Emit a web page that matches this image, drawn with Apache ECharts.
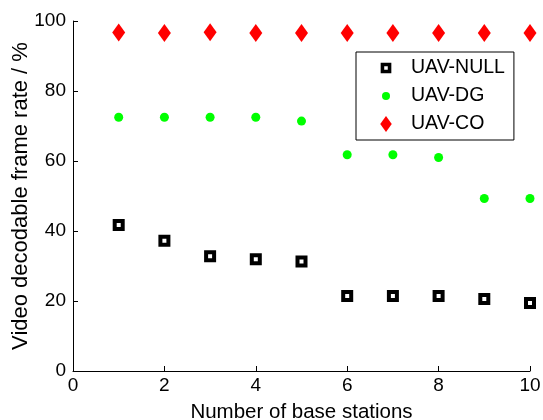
<!DOCTYPE html>
<html>
<head>
<meta charset="utf-8">
<script src="https://cdn.jsdelivr.net/npm/echarts@6/dist/echarts.min.js"></script>
<style>
html,body{margin:0;padding:0;background:#fff;}
#chart{width:543px;height:420px;}
</style>
</head>
<body>
<div id="chart"></div>
<script>
var stations = [1, 2, 3, 4, 5, 6, 7, 8, 9, 10];
var uavNull = [41.7, 37.2, 32.8, 31.9, 31.3, 21.4, 21.4, 21.4, 20.6, 19.4];
var uavDG = [72.5, 72.5, 72.5, 72.5, 71.4, 61.8, 61.8, 61.0, 49.3, 49.3];
var uavCO = [96.7, 96.6, 96.8, 96.6, 96.6, 96.6, 96.6, 96.6, 96.6, 96.6];
var seriesNames = ['UAV-NULL', 'UAV-DG', 'UAV-CO'];
var xTicks = [0, 2, 4, 6, 8, 10];
var yTicks = [0, 20, 40, 60, 80, 100];

function pairs(v) { return stations.map(function (x, i) { return [x, v[i]]; }); }

var FONT = 'Liberation Sans, Arial, sans-serif';
var BOX = 'M-9,-9 L-9,-9 M9,9 L9,9 ';
var chart = echarts.init(document.getElementById('chart'));
chart.setOption({
  animation: false,
  backgroundColor: '#fff',
  grid: { left: 73, right: 13, top: 21, bottom: 49, containLabel: false, outerBoundsMode: 'none' },
  xAxis: {
    type: 'value', min: xTicks[0], max: xTicks[xTicks.length - 1], interval: 2,
    name: 'Number of base stations', nameLocation: 'middle', nameGap: 31, nameMoveOverlap: false,
    nameTextStyle: { fontFamily: FONT, fontSize: 20.5, color: '#000' },
    axisLine: { show: true, lineStyle: { color: '#000', width: 1 } },
    axisTick: { show: true, inside: true, length: 5, lineStyle: { color: '#000' } },
    axisLabel: { fontFamily: FONT, fontSize: 19, color: '#000', margin: 5 },
    splitLine: { show: false }
  },
  yAxis: {
    type: 'value', min: yTicks[0], max: yTicks[yTicks.length - 1], interval: 20,
    name: 'Video decodable frame rate / %', nameLocation: 'middle', nameGap: 41, nameMoveOverlap: false,
    nameTextStyle: { fontFamily: FONT, fontSize: 22, color: '#000' },
    axisLine: { show: true, lineStyle: { color: '#000', width: 1 } },
    axisTick: { show: true, inside: true, length: 5, lineStyle: { color: '#000' } },
    axisLabel: { fontFamily: FONT, fontSize: 19, color: '#000', margin: 7 },
    splitLine: { show: false }
  },
  legend: {
    orient: 'vertical', left: 356, top: 52,
    backgroundColor: '#fff', borderColor: '#000', borderWidth: 1, borderRadius: 0,
    padding: [6, 9, 6, 22],
    itemGap: 8, itemWidth: 16, itemHeight: 18,
    textStyle: { fontFamily: FONT, fontSize: 19.5, color: '#000', padding: [0, 0, 0, 12] },
    data: [
      { name: seriesNames[0], icon: 'path://' + BOX + 'M-6,-6 L6,-6 L6,6 L-6,6 Z M-2,-2 L-2,2 L2,2 L2,-2 Z', itemStyle: { color: '#000', borderWidth: 0 } },
      { name: seriesNames[1], icon: 'path://' + BOX + 'M-4.5,0 A4.5,4.5 0 1,0 4.5,0 A4.5,4.5 0 1,0 -4.5,0 Z', itemStyle: { color: '#00ff00', borderWidth: 0 } },
      { name: seriesNames[2], icon: 'path://' + BOX + 'M0,-9 L6.5,0 L0,9 L-6.5,0 Z', itemStyle: { color: '#ff0000', borderWidth: 0 } }
    ]
  },
  series: [
    {
      name: seriesNames[0], type: 'scatter', data: pairs(uavNull),
      symbol: 'rect', symbolSize: 8,
      itemStyle: { color: '#fff', borderColor: '#000', borderWidth: 4, opacity: 1 }
    },
    {
      name: seriesNames[1], type: 'scatter', data: pairs(uavDG),
      symbol: 'circle', symbolSize: 9,
      itemStyle: { color: '#00ff00', opacity: 1 }
    },
    {
      name: seriesNames[2], type: 'scatter', data: pairs(uavCO),
      symbol: 'diamond', symbolSize: [13, 18],
      itemStyle: { color: '#ff0000', opacity: 1 }
    }
  ]
});
</script>
</body>
</html>
